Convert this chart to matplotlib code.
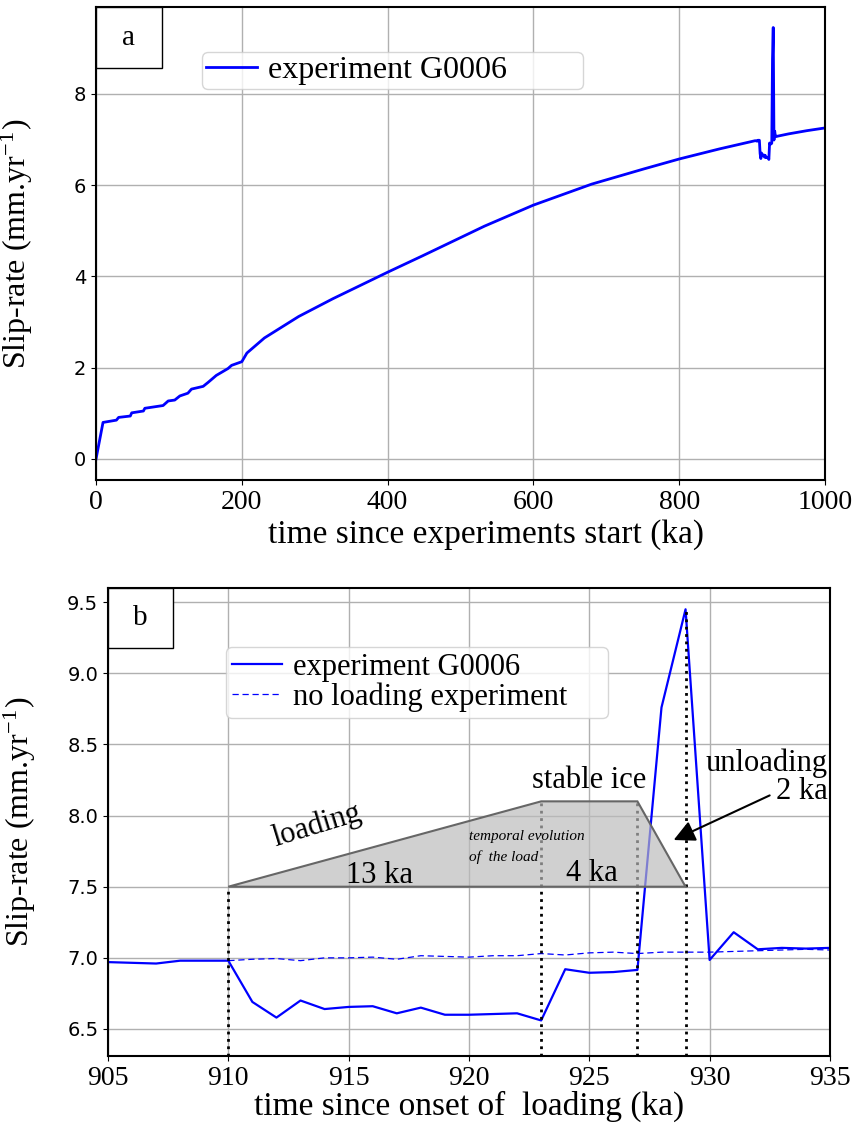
import numpy as np
import matplotlib
matplotlib.use("Agg")
import matplotlib.pyplot as plt
from matplotlib.patches import Polygon, Rectangle

plt.rcParams['font.family'] = ['Liberation Serif', 'DejaVu Serif']
plt.rcParams['mathtext.fontset'] = 'stix'

# --- donnees ---
# panel a : debut de l'experience (avant la fenetre de chargement)
early_t = [0, 9.6, 28, 31, 47, 49, 65, 67, 92, 99, 108, 115, 126, 131, 147, 154,
           165, 181, 186, 200, 207, 231, 278, 325, 400, 448, 533, 600, 680, 751,
           800, 855, 904]
early_v = [0, 0.80, 0.85, 0.91, 0.94, 1.01, 1.05, 1.11, 1.17, 1.27, 1.29, 1.38,
           1.44, 1.53, 1.59, 1.68, 1.83, 1.98, 2.05, 2.13, 2.32, 2.65, 3.12, 3.51,
           4.09, 4.45, 5.10, 5.56, 6.02, 6.35, 6.57, 6.79, 6.97]

# fenetre 905-935 ka (panel b)
win_t = list(range(905, 936))
win_v = [6.97, 6.965, 6.96, 6.98, 6.98, 6.98, 6.69, 6.58, 6.70, 6.64, 6.655,
         6.66, 6.61, 6.65, 6.60, 6.60, 6.605, 6.61, 6.56, 6.92, 6.895, 6.90,
         6.915, 8.76, 9.45, 6.985, 7.18, 7.06, 7.07, 7.065, 7.07]

# experience sans chargement
ref_t = list(range(910, 936))
ref_v = [6.98, 6.99, 6.995, 6.98, 7.0, 7.0, 7.005, 6.99, 7.015, 7.01, 7.005,
         7.015, 7.015, 7.03, 7.02, 7.035, 7.04, 7.03, 7.04, 7.04, 7.04, 7.045,
         7.05, 7.055, 7.06, 7.055]

# fin de l'experience
late_t = [950, 975, 1000]
late_v = [7.12, 7.19, 7.25]

# histoire de la charge (trapeze)
load_t = [910, 923, 927, 929]
load_v = [7.5, 8.1, 8.1, 7.5]
peak_v = 9.45

full_t = early_t + win_t + late_t
full_v = early_v + win_v + late_v

fig = plt.figure(figsize=(8.55, 11.24), dpi=100)
ax1 = fig.add_axes([0.1123, 0.5730, 0.8526, 0.4208])
ax2 = fig.add_axes([0.1263, 0.0605, 0.8444, 0.4164])

ylab = 'Slip-rate (mm.yr$^{\\mathregular{-1}}$)'
LAB = 23
TXT = 22

# ---------- panel a ----------
ax1.plot(full_t, full_v, color='blue', lw=2, label='experiment G0006')
ax1.set_xlim(0, 1000)
ax1.set_ylim(-0.46, 9.9)
ax1.set_yticks([0, 2, 4, 6, 8])
ax1.set_xticks([0, 200, 400, 600, 800, 1000])
ax1.grid(True, color='#b0b0b0', lw=1)
ax1.set_xlabel('time since experiments start (ka)', fontsize=24)
ax1.xaxis.set_label_coords(0.535, -0.082)
ax1.set_ylabel(ylab, fontsize=LAB)
ax1.yaxis.set_label_coords(-0.084, 0.5)
ax1.legend(loc='upper left', bbox_to_anchor=(0.1454, 0.5, 0.5226, 0.405),
           mode='expand', borderaxespad=0, fontsize=23, handlelength=1.6,
           handletextpad=0.35, borderpad=0.12)

# ---------- panel b ----------
ax2.plot(win_t, win_v, color='blue', lw=1.6, label='experiment G0006')
ax2.plot(ref_t, ref_v, color='blue', lw=0.9, ls='--', dashes=(5, 3),
         label='no loading experiment')

bot = 6.31
ax2.vlines(load_t[0], bot, load_v[0], colors='k', linestyles=':', lw=2)
ax2.vlines(load_t[1], bot, load_v[1], colors='k', linestyles=':', lw=2)
ax2.vlines(load_t[2], bot, load_v[2], colors='k', linestyles=':', lw=2)
ax2.vlines(load_t[3], bot, peak_v, colors='k', linestyles=':', lw=2)

trap = Polygon(list(zip(load_t, load_v)), closed=True, facecolor='#bbbbbb',
               alpha=0.68, edgecolor='none', zorder=3)
ax2.add_patch(trap)
ax2.add_patch(Polygon(list(zip(load_t, load_v)), closed=True, fill=False,
                      edgecolor='#666666', lw=1.5, zorder=3))

ax2.text(913.7, 7.93, 'loading', fontsize=TXT, rotation=17, ha='center',
         va='center', zorder=4)
ax2.text(916.3, 7.58, '13 ka', fontsize=TXT, ha='center', va='center', zorder=4)
ax2.text(920.0, 7.78, 'temporal evolution\nof  the load', fontsize=11,
         style='italic', ha='left', va='center', linespacing=1.7, zorder=4)
ax2.text(925.1, 7.59, '4 ka', fontsize=TXT, ha='center', va='center', zorder=4)
ax2.text(925.0, 8.25, 'stable ice', fontsize=TXT, ha='center', va='center',
         zorder=4)
ax2.text(934.9, 8.27, 'unloading\n2 ka', fontsize=TXT, ha='right', va='center',
         multialignment='right', linespacing=0.95, zorder=4)
ax2.annotate('', xy=(928.4, 7.82), xytext=(932.6, 8.15),
             arrowprops=dict(arrowstyle='-|>', color='k', lw=1.5,
                             mutation_scale=32), zorder=5)

ax2.set_xlim(905, 935)
ax2.set_ylim(bot, 9.6)
ax2.set_xticks(np.arange(905, 936, 5))
ax2.set_yticks(np.arange(6.5, 9.51, 0.5))
ax2.yaxis.set_major_formatter(matplotlib.ticker.FormatStrFormatter('%.1f'))
ax2.grid(True, color='#b0b0b0', lw=1)
ax2.set_xlabel('time since onset of  loading (ka)', fontsize=24, labelpad=0)
ax2.set_ylabel(ylab, fontsize=LAB)
ax2.yaxis.set_label_coords(-0.097, 0.5)
ax2.legend(loc='upper left', bbox_to_anchor=(0.1634, 0.5, 0.529, 0.374),
           mode='expand', borderaxespad=0, fontsize=TXT, handlelength=1.65,
           handletextpad=0.35, labelspacing=0.0, borderpad=0.2)

for ax, lab in [(ax1, 'a'), (ax2, 'b')]:
    ax.add_patch(Rectangle((0, 0.871), 0.09, 0.129, transform=ax.transAxes,
                           facecolor='white', edgecolor='k', lw=1, zorder=6))
    ax.text(0.045, 0.935, lab, transform=ax.transAxes, fontsize=21,
            ha='center', va='center', zorder=7)
    for s in ax.spines.values():
        s.set_linewidth(1.5)
    for t in ax.get_yticklabels():
        t.set_fontfamily('DejaVu Sans')
        t.set_fontsize(14)
    for t in ax.get_xticklabels():
        t.set_fontsize(20)

fig.savefig('out.png', dpi=100)
